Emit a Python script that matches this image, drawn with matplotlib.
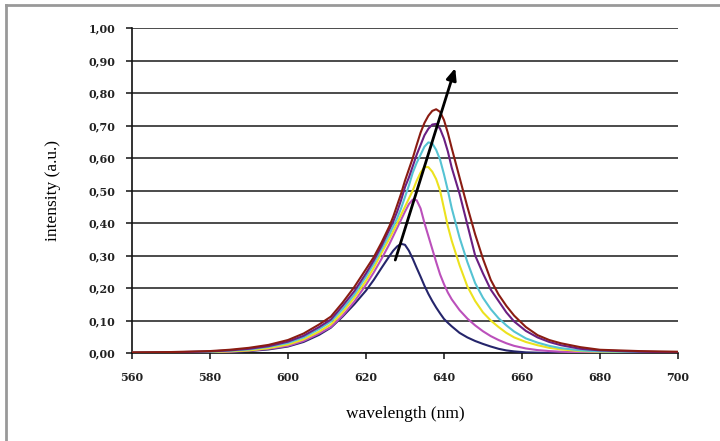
import matplotlib
matplotlib.use("Agg")
import matplotlib.pyplot as plt
from matplotlib.lines import Line2D
from matplotlib.ticker import FuncFormatter

# wavelength grid (nm) shared by all spectra
wl = [560, 570, 580, 585, 590, 595, 600, 604, 608, 611, 614, 617, 620, 622, 624,
      626, 627, 628, 629, 630, 631, 632, 633, 634, 635, 636, 637, 638, 639, 640,
      641, 642, 644, 646, 648, 650, 652, 654, 656, 658, 661, 664, 667, 670, 675,
      680, 690, 700]

navy = [0.000, 0.001, 0.002, 0.003, 0.006, 0.011, 0.020, 0.034, 0.056, 0.078,
        0.112, 0.150, 0.192, 0.225, 0.262,
        0.298, 0.315, 0.328, 0.336, 0.333, 0.315, 0.290, 0.262, 0.235, 0.207,
        0.182, 0.160, 0.140, 0.122, 0.105, 0.093, 0.082,
        0.062, 0.048, 0.037, 0.028, 0.020, 0.013, 0.008, 0.005, 0.002, 0.001,
        0.000, 0.000, 0.000, 0.000, 0.000, 0.000]
magenta = [0.001, 0.001, 0.002, 0.004, 0.007, 0.013, 0.022, 0.037, 0.060, 0.080,
           0.115, 0.158, 0.210, 0.248, 0.290,
           0.335, 0.360, 0.385, 0.410, 0.435, 0.458, 0.472, 0.470, 0.445, 0.400,
           0.360, 0.320, 0.280, 0.242, 0.212, 0.186, 0.165,
           0.132, 0.106, 0.085, 0.067, 0.052, 0.040, 0.030, 0.022, 0.014, 0.009,
           0.006, 0.004, 0.002, 0.001, 0.001, 0.001]
yellow = [0.001, 0.001, 0.003, 0.005, 0.008, 0.015, 0.026, 0.042, 0.066, 0.088,
          0.125, 0.170, 0.222, 0.262, 0.308,
          0.352, 0.375, 0.400, 0.425, 0.450, 0.475, 0.500, 0.530, 0.555, 0.572,
          0.572, 0.558, 0.535, 0.500, 0.445, 0.390, 0.345,
          0.270, 0.205, 0.160, 0.125, 0.100, 0.080, 0.062, 0.048, 0.034, 0.024,
          0.016, 0.011, 0.006, 0.004, 0.002, 0.001]
cyan = [0.001, 0.002, 0.004, 0.007, 0.011, 0.019, 0.031, 0.048, 0.074, 0.097,
        0.135, 0.180, 0.235, 0.275, 0.320,
        0.365, 0.390, 0.415, 0.445, 0.480, 0.515, 0.555, 0.585, 0.610, 0.635,
        0.648, 0.645, 0.625, 0.595, 0.550, 0.500, 0.445,
        0.355, 0.280, 0.215, 0.170, 0.135, 0.107, 0.085, 0.066, 0.045, 0.032,
        0.022, 0.015, 0.008, 0.005, 0.003, 0.002]
purple = [0.001, 0.002, 0.005, 0.008, 0.013, 0.021, 0.035, 0.053, 0.080, 0.103,
          0.145, 0.190, 0.245, 0.285, 0.330,
          0.380, 0.405, 0.435, 0.470, 0.510, 0.540, 0.575, 0.610, 0.640, 0.670,
          0.690, 0.703, 0.705, 0.690, 0.660, 0.620, 0.570,
          0.490, 0.395, 0.300, 0.245, 0.195, 0.160, 0.125, 0.097, 0.068, 0.048,
          0.034, 0.024, 0.013, 0.008, 0.004, 0.002]
darkred = [0.002, 0.003, 0.006, 0.010, 0.016, 0.025, 0.040, 0.060, 0.088, 0.112,
           0.155, 0.203, 0.258, 0.295, 0.340,
           0.390, 0.420, 0.455, 0.490, 0.530, 0.565, 0.600, 0.640, 0.678, 0.708,
           0.730, 0.745, 0.750, 0.742, 0.717, 0.677, 0.630,
           0.540, 0.450, 0.365, 0.290, 0.225, 0.180, 0.145, 0.115, 0.080, 0.055,
           0.040, 0.030, 0.018, 0.010, 0.006, 0.004]

series = [(navy, "#25256b"), (magenta, "#bb50bb"), (yellow, "#ece21e"),
          (cyan, "#55c3d3"), (purple, "#6a1f82"), (darkred, "#8a1c12")]

# arrow showing peak shift (wavelength, intensity)
arrow_start = (627.3, 0.278)
arrow_end = (643.1, 0.885)

SERIF = "Liberation Serif"

fig = plt.figure(figsize=(7.2, 4.41), dpi=100)
ax = fig.add_axes([0.1833, 0.1995, 0.7583, 0.737])

for ys, col in series:
    ax.plot(wl, ys, color=col, lw=1.5, zorder=3)

ax.annotate("", xy=arrow_end, xytext=arrow_start,
            arrowprops=dict(arrowstyle="-|>,head_length=0.7,head_width=0.3",
                            color="black", lw=2), zorder=4)

ax.set_xlim(560, 700)
ax.set_ylim(0, 1.0)
ax.set_xticks(range(560, 701, 20))
ax.set_yticks([i / 10 for i in range(11)])
ax.yaxis.set_major_formatter(FuncFormatter(lambda v, p: f"{v:.2f}".replace(".", ",")))
ax.grid(axis="y", color="#1a1a1a", lw=1.1)
ax.set_axisbelow(True)
ax.spines[["top", "right"]].set_visible(False)
ax.spines[["left", "bottom"]].set_color("#111")
ax.spines[["left", "bottom"]].set_linewidth(1.2)
ax.tick_params(direction="out", length=4, width=1.1, color="#111")
ax.tick_params(axis="x", pad=10)
ax.tick_params(axis="y", pad=8)
for lab in ax.get_xticklabels() + ax.get_yticklabels():
    lab.set_fontfamily("DejaVu Serif"); lab.set_fontweight("bold"); lab.set_fontsize(8)
    lab.set_color("#222")

ax.set_xlabel("wavelength (nm)", fontfamily=SERIF, fontsize=12.5, labelpad=16)
ax.set_ylabel("intensity (a.u.)", fontfamily=SERIF, fontsize=12.5, labelpad=20)

# grey outer frame (left and top edges visible)
fig.add_artist(Line2D([6 / 720, 6 / 720], [0, 1 - 5 / 441], transform=fig.transFigure,
                      color="#999", lw=2))
fig.add_artist(Line2D([6 / 720, 1], [1 - 5 / 441, 1 - 5 / 441], transform=fig.transFigure,
                      color="#999", lw=2))

fig.savefig("out.png", dpi=100)
